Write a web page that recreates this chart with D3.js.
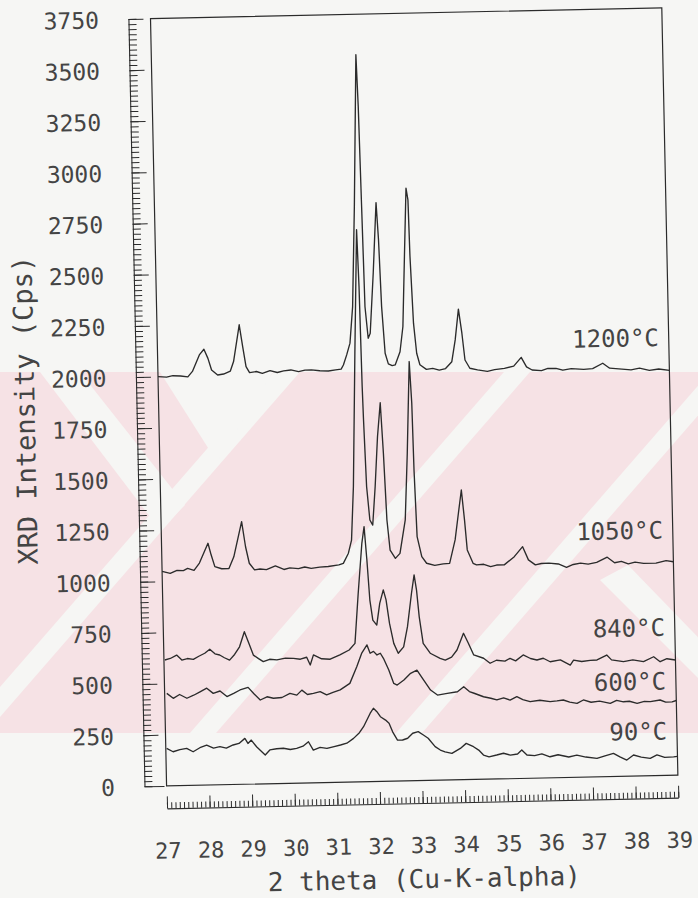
<!DOCTYPE html>
<html>
<head>
<meta charset="utf-8">
<script src="https://cdn.jsdelivr.net/npm/d3@7"></script>
<style>
  html, body { margin: 0; padding: 0; background: #f6f6f4; }
  svg { display: block; }
</style>
</head>
<body>
<svg id="chart" width="698" height="898"></svg>
<script>
// ---------------- DATA ----------------
const xTickLabels = [27, 28, 29, 30, 31, 32, 33, 34, 35, 36, 37, 38, 39];
const yTickLabels = [0, 250, 500, 750, 1000, 1250, 1500, 1750, 2000, 2250, 2500, 2750, 3000, 3250, 3500, 3750];
const seriesNames = ["1200°C", "1050°C", "840°C", "600°C", "90°C"];
const labelLevels = [2099, 1158, 682, 420, 176];

// [2theta, intensity (cps)]
const s1200 = [
  [27.00,2000],[27.20,1997],[27.35,2003],[27.53,2001],[27.70,1996],[27.81,2022],[27.98,2102],[28.09,2129],
  [28.18,2084],[28.26,2027],[28.40,2002],[28.54,2006],[28.70,2020],[28.78,2066],[28.93,2245],[29.00,2139],
  [29.07,2040],[29.15,2010],[29.31,2015],[29.45,2005],[29.63,2018],[29.80,2008],[29.95,2015],[30.12,2019],
  [30.30,2010],[30.45,2017],[30.60,2017],[30.80,2012],[31.00,2010],[31.17,2015],[31.30,2018],[31.355,2038],
  [31.437,2087],[31.52,2144],[31.60,2322],[31.69,2811],[31.80,3552],[31.83,3299],[31.86,2810],[31.89,2320],
  [31.95,2166],[32.00,2190],[32.10,2484],[32.20,2828],[32.24,2646],[32.28,2319],[32.34,2091],[32.41,2039],
  [32.50,2030],[32.57,2033],[32.69,2097],[32.77,2220],[32.84,2561],[32.91,2895],[32.95,2838],[32.97,2562],
  [33.02,2235],[33.08,2088],[33.15,2031],[33.30,2008],[33.45,2012],[33.60,2003],[33.75,2010],[33.90,2043],
  [33.99,2149],[34.08,2299],[34.15,2181],[34.21,2050],[34.32,2009],[34.50,2000],[34.73,1992],[34.90,2000],
  [35.13,2005],[35.35,2015],[35.53,2057],[35.65,2010],[35.78,1994],[36.00,1990],[36.15,2000],[36.34,2000],
  [36.50,1990],[36.70,1997],[36.99,1992],[37.20,1995],[37.44,2020],[37.60,1995],[37.96,1988],[38.10,1985],
  [38.30,1992],[38.53,1980],[38.75,1986],[39.00,1978]
];
const s1050 = [
  [27.00,1048],[27.19,1038],[27.35,1052],[27.50,1050],[27.60,1060],[27.75,1050],[27.88,1085],[28.09,1181],
  [28.16,1123],[28.24,1066],[28.40,1055],[28.57,1055],[28.69,1112],[28.89,1283],[28.97,1160],[29.05,1079],
  [29.17,1046],[29.30,1050],[29.45,1046],[29.66,1063],[29.86,1045],[30.00,1052],[30.20,1048],[30.35,1055],
  [30.50,1048],[30.70,1053],[30.90,1055],[31.15,1062],[31.256,1069],[31.38,1118],[31.46,1182],[31.53,1443],
  [31.63,2095],[31.73,2697],[31.76,2420],[31.785,1930],[31.80,1768],[31.84,1441],[31.90,1278],[31.965,1253],
  [32.04,1440],[32.12,1685],[32.20,1850],[32.25,1603],[32.30,1276],[32.36,1129],[32.48,1088],[32.59,1112],
  [32.73,1275],[32.81,1600],[32.90,2048],[32.94,1844],[32.96,1518],[33.00,1192],[33.10,1094],[33.21,1061],
  [33.40,1050],[33.60,1056],[33.75,1058],[33.89,1172],[33.98,1302],[34.06,1415],[34.12,1269],[34.17,1122],
  [34.30,1056],[34.38,1048],[34.55,1050],[34.71,1038],[34.85,1045],[35.03,1045],[35.27,1084],[35.47,1132],
  [35.60,1067],[35.76,1042],[35.90,1048],[36.08,1049],[36.30,1044],[36.49,1027],[36.65,1040],[36.82,1046],
  [37.00,1040],[37.20,1048],[37.45,1072],[37.62,1044],[37.78,1050],[37.94,1037],[38.10,1045],[38.30,1038],
  [38.59,1038],[38.83,1049],[39.00,1043]
];
const s840 = [
  [27.02,615],[27.15,622],[27.30,638],[27.42,613],[27.55,620],[27.69,615],[27.82,630],[27.96,644],
  [28.08,663],[28.20,640],[28.31,634],[28.42,620],[28.54,608],[28.66,635],[28.78,672],[28.90,745],
  [29.00,688],[29.10,630],[29.22,612],[29.33,597],[29.48,608],[29.65,604],[29.85,612],[30.04,610],
  [30.20,605],[30.35,614],[30.43,576],[30.51,625],[30.70,605],[30.90,602],[31.13,622],[31.35,645],
  [31.49,677],[31.59,921],[31.70,1165],[31.76,1246],[31.81,1083],[31.86,887],[31.92,789],[32.01,764],
  [32.09,870],[32.18,935],[32.24,886],[32.31,771],[32.40,673],[32.50,624],[32.63,655],[32.73,753],
  [32.84,916],[32.91,1005],[32.96,931],[33.01,800],[33.09,670],[33.25,621],[33.48,595],[33.60,586],
  [33.75,600],[33.88,634],[34.04,715],[34.15,666],[34.27,608],[34.50,591],[34.65,566],[34.80,580],
  [35.00,575],[35.12,588],[35.25,575],[35.43,603],[35.60,585],[35.75,577],[35.90,585],[36.06,567],
  [36.30,575],[36.53,549],[36.61,573],[36.80,565],[37.00,570],[37.16,571],[37.39,594],[37.50,570],
  [37.78,560],[38.00,568],[38.25,558],[38.49,581],[38.64,556],[38.80,570],[39.00,563]
];
const s600 = [
  [27.05,452],[27.20,427],[27.35,445],[27.52,426],[27.68,440],[27.83,456],[27.99,473],[28.14,447],
  [28.30,458],[28.46,430],[28.62,445],[28.77,461],[28.96,473],[29.10,440],[29.24,410],[29.40,425],
  [29.55,417],[29.75,420],[29.94,439],[30.10,430],[30.22,454],[30.35,432],[30.49,437],[30.65,445],
  [30.80,428],[30.95,440],[31.12,451],[31.35,482],[31.52,562],[31.64,627],[31.77,668],[31.84,627],
  [31.92,636],[32.00,618],[32.08,626],[32.15,601],[32.27,543],[32.38,477],[32.46,469],[32.62,493],
  [32.78,525],[32.93,540],[33.08,491],[33.24,441],[33.40,416],[33.63,423],[33.87,430],[34.02,454],
  [34.15,430],[34.26,421],[34.48,403],[34.65,395],[34.79,386],[34.95,395],[35.10,384],[35.26,400],
  [35.40,385],[35.57,374],[35.80,380],[36.04,372],[36.20,375],[36.35,379],[36.50,368],[36.67,361],
  [36.82,377],[37.00,365],[37.20,370],[37.45,358],[37.60,372],[37.76,364],[37.90,366],[38.08,355],
  [38.25,364],[38.39,362],[38.62,369],[38.75,358],[38.90,359],[39.00,365]
];
const s90 = [
  [27.02,183],[27.17,166],[27.33,176],[27.49,181],[27.64,164],[27.80,183],[27.96,195],[28.12,180],
  [28.27,186],[28.42,178],[28.58,193],[28.72,200],[28.86,224],[28.93,199],[29.01,215],[29.13,182],
  [29.33,141],[29.44,165],[29.60,170],[29.76,172],[29.92,165],[30.07,170],[30.22,180],[30.35,201],
  [30.46,160],[30.62,172],[30.78,167],[30.95,175],[31.10,182],[31.25,190],[31.41,213],[31.55,240],
  [31.65,269],[31.81,333],[31.89,358],[31.97,341],[32.05,316],[32.17,299],[32.25,283],[32.33,241],
  [32.44,200],[32.56,200],[32.68,208],[32.80,232],[32.93,239],[33.05,222],[33.16,206],[33.32,164],
  [33.44,147],[33.55,138],[33.71,130],[33.91,153],[34.05,177],[34.22,160],[34.34,143],[34.45,118],
  [34.58,109],[34.76,117],[34.92,125],[35.08,115],[35.25,120],[35.35,139],[35.47,114],[35.65,110],
  [35.82,118],[36.01,103],[36.20,112],[36.45,100],[36.64,108],[36.85,98],[37.11,90],[37.30,102],
  [37.50,113],[37.65,95],[37.81,79],[37.97,103],[38.15,92],[38.36,85],[38.52,101],[38.70,88],
  [38.91,90],[39.00,92]
];
const seriesData = [s1200, s1050, s840, s600, s90];

// ---------------- DRAWING ----------------
const svg = d3.select("#chart");
const ink = "#2b2b2b";
const textInk = "#444";
const mono = "'DejaVu Sans Mono', 'Liberation Mono', monospace";

// faint pink watermark band of the scanned page
const wm = svg.append("g");
const clip = svg.append("defs").append("clipPath").attr("id", "band");
clip.append("rect").attr("x", 0).attr("y", 372).attr("width", 698).attr("height", 361);
wm.append("rect").attr("x", 0).attr("y", 372).attr("width", 698).attr("height", 361).attr("fill", "#f6e2e5");
const wmW = wm.append("g").attr("clip-path", "url(#band)").attr("fill", "#f6f6f4");
const stripe = (xb, w, slope) => {
  const dx = 361 / slope;
  return [[xb, 733], [xb + w, 733], [xb + w + dx, 372], [xb + dx, 372]];
};
[[-40, 26], [190, 26], [396, 26]].forEach(s =>
  wmW.append("polygon").attr("points", stripe(s[0], s[1], 1.15).join(" ")));
wmW.append("polygon").attr("points", "160,372 273,372 217,462");
wmW.append("polygon").attr("points", "40,372 80,372 185,505 160,530");
wmW.append("polygon").attr("points", "600,580 628,565 720,660 720,700");

// rotated chart (scan is slightly tilted)
const g = svg.append("g").attr("transform", "rotate(-1.2,420,450)");

const x = d3.scaleLinear().domain([27, 39]).range([159.6, 671]);
const y = d3.scaleLinear().domain([0, 3750]).range([780.5, 13]);

// frame
g.append("rect")
  .attr("x", x(27)).attr("y", y(3750))
  .attr("width", x(39) - x(27)).attr("height", y(0) - y(3750))
  .attr("fill", "none").attr("stroke", ink).attr("stroke-width", 1.2);

// y ruler
const yRulerX = 137.5;
const yMinor = d3.range(0, 3751, 25);
const gyMinor = g.append("g").attr("transform", `translate(${yRulerX},0)`)
  .call(d3.axisRight(y).tickValues(yMinor).tickSize(8).tickSizeOuter(0).tickFormat(""));
const gyMajor = g.append("g").attr("transform", `translate(${yRulerX},0)`)
  .call(d3.axisRight(y).tickValues(yTickLabels).tickSize(15).tickSizeOuter(0).tickFormat(""));
gyMajor.select(".domain").remove();
gyMajor.selectAll(".tick").filter(d => d === 0).select("line").attr("x2", 20);
[gyMinor, gyMajor].forEach(a => {
  a.selectAll("line").attr("stroke", ink).attr("stroke-width", 1);
  a.selectAll(".domain").attr("stroke", ink).attr("stroke-width", 1.1);
});
const gyLab = g.append("g").attr("transform", "translate(108,0)")
  .call(d3.axisLeft(y).tickValues(yTickLabels).tickSize(0).tickPadding(0).tickFormat(d3.format("d")));
gyLab.select(".domain").remove();
gyLab.selectAll("text").attr("font-family", mono).attr("font-size", 23).attr("fill", textInk)
  .attr("dy", "0.36em");

// x ruler
const xRulerY = 803;
const xMinor = d3.range(270, 391).map(d => d / 10);
const gxMinor = g.append("g").attr("transform", `translate(0,${xRulerY})`)
  .call(d3.axisTop(x).tickValues(xMinor).tickSize(6).tickSizeOuter(0).tickFormat(""));
const gxMajor = g.append("g").attr("transform", `translate(0,${xRulerY})`)
  .call(d3.axisTop(x).tickValues(xTickLabels).tickSize(12).tickSizeOuter(0).tickFormat(""));
gxMajor.select(".domain").remove();
[gxMinor, gxMajor].forEach(a => {
  a.selectAll("line").attr("stroke", ink).attr("stroke-width", 1);
  a.selectAll(".domain").attr("stroke", ink).attr("stroke-width", 1.1);
});
const gxLab = g.append("g").attr("transform", "translate(0,853)")
  .call(d3.axisBottom(x).tickValues(xTickLabels).tickSize(0).tickPadding(0).tickFormat(d3.format("d")));
gxLab.select(".domain").remove();
gxLab.selectAll("text").attr("font-family", mono).attr("font-size", 22).attr("fill", textInk)
  .attr("y", 0).attr("dy", 0);

// axis titles
g.append("text").attr("x", (x(27) + x(39)) / 2).attr("y", 888)
  .attr("text-anchor", "middle").attr("font-family", mono).attr("font-size", 26).attr("fill", textInk)
  .text("2 theta (Cu-K-alpha)");
g.append("text").attr("transform", "translate(26,402) rotate(-90)")
  .attr("text-anchor", "middle").attr("dominant-baseline", "central")
  .attr("font-family", mono).attr("font-size", 27).attr("fill", textInk)
  .text("XRD Intensity (Cps)");

// traces
const line = d3.line().x(d => x(d[0])).y(d => y(d[1]));
g.selectAll("path.trace").data(seriesData).join("path")
  .attr("class", "trace")
  .attr("d", line)
  .attr("fill", "none").attr("stroke", ink).attr("stroke-width", 1.35)
  .attr("stroke-linejoin", "round");

// series labels
g.selectAll("text.lab").data(seriesNames).join("text")
  .attr("class", "lab")
  .attr("x", x(38.77)).attr("y", (d, i) => y(labelLevels[i]))
  .attr("text-anchor", "end").attr("font-family", mono).attr("font-size", 24).attr("fill", textInk)
  .text(d => d);
</script>
</body>
</html>
